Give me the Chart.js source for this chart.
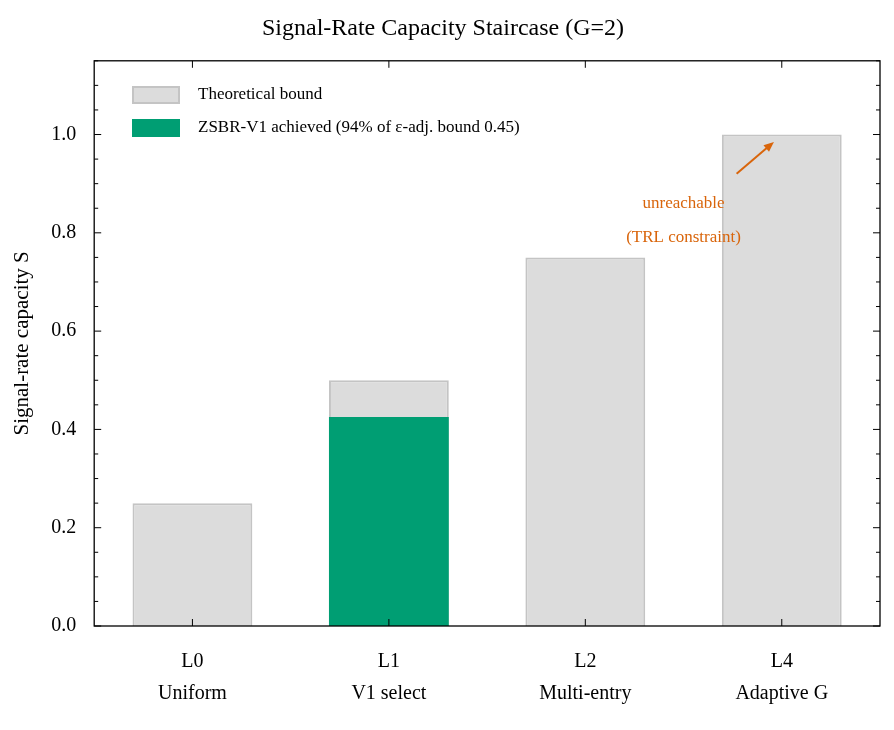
<!DOCTYPE html>
<html>
<head>
<meta charset="utf-8">
<script src="https://cdn.jsdelivr.net/npm/chart.js@4"></script>
<style>
  body { margin: 0; background: #fff; }
</style>
</head>
<body>
<canvas id="c" width="894" height="730"></canvas>
<script>
const levels = [['L0', 'Uniform'], ['L1', 'V1 select'], ['L2', 'Multi-entry'], ['L4', 'Adaptive G']];
const boundValues = [0.25, 0.5, 0.75, 1.0];
const achievedValues = [null, 0.425, null, null];
const yMajorTicks = [0, 0.2, 0.4, 0.6, 0.8, 1.0];
const yMinorStep = 0.05;
const legendNames = ['Theoretical bound', 'ZSBR-V1 achieved (94% of ε-adj. bound 0.45)'];
const noteLines = ['unreachable', '(TRL constraint)'];
const notePos = [[2.5, 0.86], [2.5, 0.79]];
const arrowFrom = [2.77, 0.92];
const arrowTo = [2.96, 0.985];

const serif = '"Liberation Serif", "DejaVu Serif", serif';
const grayFill = '#dcdcdc', grayEdge = '#c4c4c4', green = '#009E73', orange = '#D9650B';

const framePlugin = {
  id: 'frame',
  afterDraw(chart) {
    const { ctx, chartArea: a, scales: { x, y } } = chart;
    ctx.save();
    ctx.strokeStyle = '#000';
    ctx.lineWidth = 1.3;
    ctx.strokeRect(a.left, a.top, a.right - a.left, a.bottom - a.top);
    ctx.lineWidth = 1;
    for (let v = 0; v <= 1.15 + 1e-9; v += yMinorStep) {
      const py = y.getPixelForValue(v);
      const major = yMajorTicks.some(t => Math.abs(t - v) < 1e-6);
      const len = major ? 7 : 4;
      ctx.beginPath();
      ctx.moveTo(a.left, py); ctx.lineTo(a.left + len, py);
      ctx.moveTo(a.right, py); ctx.lineTo(a.right - len, py);
      ctx.stroke();
    }
    levels.forEach((_, i) => {
      const px = x.getPixelForValue(i);
      ctx.beginPath();
      ctx.moveTo(px, a.bottom); ctx.lineTo(px, a.bottom - 7);
      ctx.moveTo(px, a.top); ctx.lineTo(px, a.top + 7);
      ctx.stroke();
    });
    // legend
    const items = [[grayFill, grayEdge], [green, green]];
    ctx.font = '17px ' + serif;
    ctx.textBaseline = 'middle';
    items.forEach((it, i) => {
      const ly = 95 + i * 33;
      ctx.fillStyle = it[0];
      ctx.fillRect(133, ly - 8, 46, 16);
      ctx.strokeStyle = it[1];
      ctx.lineWidth = 2;
      ctx.strokeRect(133, ly - 8, 46, 16);
      ctx.fillStyle = '#000';
      ctx.fillText(legendNames[i], 198, ly);
    });
    // annotation
    ctx.fillStyle = orange;
    ctx.textAlign = 'center';
    noteLines.forEach((t, i) => {
      ctx.fillText(t, x.getPixelForValue(notePos[i][0]), y.getPixelForValue(notePos[i][1]));
    });
    const x0 = x.getPixelForValue(arrowFrom[0]), y0 = y.getPixelForValue(arrowFrom[1]);
    const x1 = x.getPixelForValue(arrowTo[0]), y1 = y.getPixelForValue(arrowTo[1]);
    const ang = Math.atan2(y1 - y0, x1 - x0);
    ctx.strokeStyle = orange;
    ctx.lineWidth = 2;
    ctx.beginPath(); ctx.moveTo(x0, y0); ctx.lineTo(x1 - 6 * Math.cos(ang), y1 - 6 * Math.sin(ang)); ctx.stroke();
    ctx.beginPath();
    ctx.moveTo(x1, y1);
    ctx.lineTo(x1 - 11 * Math.cos(ang - 0.4), y1 - 11 * Math.sin(ang - 0.4));
    ctx.lineTo(x1 - 11 * Math.cos(ang + 0.4), y1 - 11 * Math.sin(ang + 0.4));
    ctx.closePath(); ctx.fill();
    ctx.restore();
  }
};

new Chart(document.getElementById('c'), {
  type: 'bar',
  data: {
    labels: levels,
    datasets: [
      { label: legendNames[0], data: boundValues, backgroundColor: grayFill, borderColor: grayEdge, borderWidth: 2, order: 2 },
      { label: legendNames[1], data: achievedValues, backgroundColor: green, borderWidth: 0, order: 1 }
    ]
  },
  options: {
    responsive: false,
    animation: false,
    devicePixelRatio: 1,
    layout: { padding: { top: 8, right: 14, left: 6, bottom: 8 } },
    datasets: { bar: { grouped: false, barPercentage: 0.61, categoryPercentage: 1 } },
    plugins: {
      legend: { display: false },
      tooltip: { enabled: false },
      title: { display: true, text: 'Signal-Rate Capacity Staircase (G=2)', color: '#000', font: { family: serif, size: 24, weight: 'normal' }, padding: { top: 6, bottom: 18 } }
    },
    scales: {
      x: {
        grid: { display: false },
        border: { display: false },
        ticks: { color: '#000', font: { family: serif, size: 20, lineHeight: 1.6 }, padding: 12 }
      },
      y: {
        min: 0, max: 1.15,
        grid: { display: false },
        border: { display: false },
        afterBuildTicks(s) { s.ticks = yMajorTicks.map(v => ({ value: v })); },
        ticks: { color: '#000', font: { family: serif, size: 20 }, padding: 10, callback: v => v.toFixed(1) },
        title: { display: true, text: 'Signal-rate capacity S', color: '#000', font: { family: serif, size: 21 }, padding: { bottom: 6 } }
      }
    }
  },
  plugins: [framePlugin]
});
</script>
</body>
</html>
